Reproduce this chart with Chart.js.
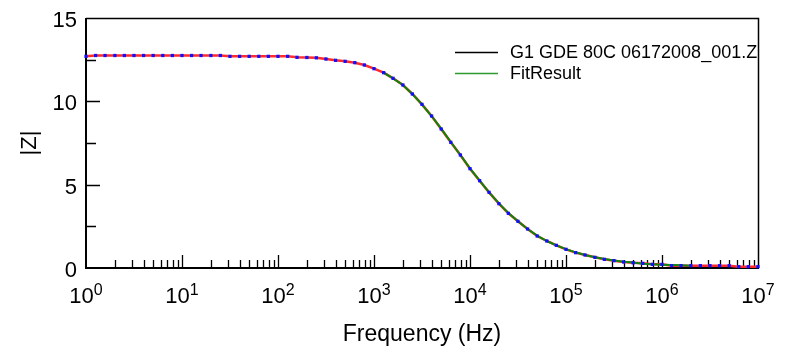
<!DOCTYPE html>
<html>
<head>
<meta charset="utf-8">
<script src="https://cdn.jsdelivr.net/npm/chart.js@4/dist/chart.umd.min.js"></script>
<style>
    html, body { margin: 0; padding: 0; background: #fff; }
    canvas { display: block; }
</style>
</head>
<body>
<canvas id="bode-chart" width="788" height="354"></canvas>
<script>
// frequency points (Hz), 10 per decade
var freq = [
    1, 1.26, 1.58, 2, 2.51, 3.16, 3.98, 5.01, 6.31, 7.94,
    10, 12.6, 15.8, 20, 25.1, 31.6, 39.8, 50.1, 63.1, 79.4,
    100, 126, 158, 200, 251, 316, 398, 501, 631, 794,
    1000, 1260, 1580, 2000, 2510, 3160, 3980, 5010, 6310, 7940,
    1e4, 1.26e4, 1.58e4, 2e4, 2.51e4, 3.16e4, 3.98e4, 5.01e4, 6.31e4, 7.94e4,
    1e5, 1.26e5, 1.58e5, 2e5, 2.51e5, 3.16e5, 3.98e5, 5.01e5, 6.31e5, 7.94e5,
    1e6, 1.26e6, 1.58e6, 2e6, 2.51e6, 3.16e6, 3.98e6, 5.01e6, 6.31e6, 7.94e6,
    1e7
];

// measured |Z|
var zMeasured = [
    12.70, 12.75, 12.75, 12.75, 12.75, 12.75, 12.75, 12.75, 12.75, 12.75,
    12.75, 12.75, 12.75, 12.75, 12.75, 12.70, 12.70, 12.70, 12.70, 12.70,
    12.70, 12.70, 12.64, 12.63, 12.61, 12.54, 12.46, 12.40, 12.32, 12.18,
    11.96, 11.72, 11.38, 10.98, 10.44, 9.82, 9.12, 8.34, 7.54, 6.78,
    5.96, 5.24, 4.54, 3.86, 3.28, 2.80, 2.34, 1.92, 1.62, 1.36,
    1.12, 0.92, 0.78, 0.64, 0.52, 0.44, 0.36, 0.31, 0.28, 0.22,
    0.22, 0.14, 0.14, 0.14, 0.14, 0.14, 0.14, 0.14, 0.08, 0.08,
    0.08
];

// fit result, only over the middle of the range
var fitFreq = freq.slice(31, 64);
var zFit = [
    11.72, 11.38, 10.98, 10.44, 9.82, 9.12, 8.36, 7.56, 6.78, 5.98,
    5.24, 4.54, 3.88, 3.30, 2.80, 2.34, 1.94, 1.62, 1.36, 1.13,
    0.94, 0.78, 0.65, 0.54, 0.45, 0.38, 0.33, 0.26, 0.23, 0.20,
    0.18, 0.16, 0.14
];

var decades = [0, 1, 2, 3, 4, 5, 6, 7];
var yTicks = [0, 5, 10, 15];
var seriesNames = ["G1 GDE 80C 06172008_001.Z", "FitResult"];

var FONT = "'Liberation Sans', Arial, sans-serif";

function pts(xs, ys) {
    return xs.map(function (x, i) { return { x: x, y: ys[i] }; });
}

var frame = {
    id: "frame",
    beforeDatasetsDraw: function (chart) {
        var ctx = chart.ctx, a = chart.chartArea;
        var xs = chart.scales.x, ys = chart.scales.y;
        ctx.save();
        ctx.strokeStyle = "#000";

        // ticks point inward
        ctx.lineWidth = 1.3;
        ctx.beginPath();
        decades.forEach(function (n) {
            for (var m = 1; m <= 9; m++) {
                var f = m * Math.pow(10, n);
                if (f <= 1 || f >= 1e7) continue;
                var px = Math.round(xs.getPixelForValue(f)) + 0.5;
                var len = m === 1 ? 13 : 8;
                ctx.moveTo(px, a.bottom);
                ctx.lineTo(px, a.bottom - len);
            }
        });
        [2.5, 5, 7.5, 10, 12.5].forEach(function (v) {
            var py = Math.round(ys.getPixelForValue(v)) + 0.5;
            var len = v % 5 === 0 ? 14 : 10;
            ctx.moveTo(a.left, py);
            ctx.lineTo(a.left + len, py);
        });
        ctx.stroke();

        ctx.lineWidth = 1.5;
        ctx.beginPath();
        ctx.moveTo(a.left, a.top + 0.5);
        ctx.lineTo(a.right + 0.5, a.top + 0.5);
        ctx.lineTo(a.right + 0.5, a.bottom);
        ctx.stroke();

        ctx.lineWidth = 2;
        ctx.beginPath();
        ctx.moveTo(a.left, a.top);
        ctx.lineTo(a.left, a.bottom);
        ctx.lineTo(a.right + 1, a.bottom);
        ctx.stroke();
        ctx.restore();
    },
    afterDraw: function (chart) {
        var ctx = chart.ctx, a = chart.chartArea;
        var xs = chart.scales.x, ys = chart.scales.y;
        ctx.save();
        ctx.fillStyle = "#000";

        // y tick labels
        ctx.font = "22px " + FONT;
        ctx.textAlign = "right";
        ctx.textBaseline = "middle";
        yTicks.forEach(function (v) {
            ctx.fillText(String(v), a.left - 9, ys.getPixelForValue(v) + 3);
        });

        // 10^n labels
        ctx.textBaseline = "alphabetic";
        ctx.textAlign = "left";
        decades.forEach(function (n) {
            var px = xs.getPixelForValue(Math.pow(10, n));
            ctx.font = "22px " + FONT;
            var wb = ctx.measureText("10").width;
            ctx.font = "16px " + FONT;
            var we = ctx.measureText(String(n)).width;
            var x0 = px - (wb + we) / 2;
            ctx.font = "22px " + FONT;
            ctx.fillText("10", x0, a.bottom + 35);
            ctx.font = "16px " + FONT;
            ctx.fillText(String(n), x0 + wb, a.bottom + 27);
        });

        // legend inside the plot
        var colors = ["#000000", "#2f9a2f"];
        ctx.font = "18px " + FONT;
        ctx.textBaseline = "middle";
        seriesNames.forEach(function (name, i) {
            var y = 52.5 + i * 21;
            ctx.strokeStyle = colors[i];
            ctx.lineWidth = 1.5;
            ctx.beginPath();
            ctx.moveTo(455, y);
            ctx.lineTo(498, y);
            ctx.stroke();
            ctx.fillText(name, 510, y + 1);
        });
        ctx.restore();
    }
};

new Chart(document.getElementById("bode-chart"), {
    type: "line",
    data: {
        datasets: [
            {
                label: seriesNames[0] + " points",
                data: pts(freq, zMeasured),
                showLine: false,
                pointStyle: "rect",
                pointRadius: 2.3,
                pointBorderWidth: 0,
                pointBackgroundColor: "#1010ff",
                clip: false,
                order: 1
            },
            {
                label: seriesNames[1],
                data: pts(fitFreq, zFit),
                borderColor: "#0a870a",
                borderWidth: 2,
                pointRadius: 0,
                tension: 0,
                order: 2
            },
            {
                label: seriesNames[0],
                data: pts(freq, zMeasured),
                borderColor: "#ff2a2a",
                borderWidth: 2.5,
                pointRadius: 0,
                tension: 0,
                order: 3
            }
        ]
    },
    options: {
        responsive: false,
        animation: false,
        devicePixelRatio: 1,
        layout: { padding: { left: 0, right: 30, top: 18, bottom: 0 } },
        scales: {
            x: {
                type: "logarithmic",
                min: 1,
                max: 1e7,
                grid: { display: false, drawTicks: false },
                border: { display: false },
                ticks: { display: false },
                title: {
                    display: true,
                    text: "Frequency (Hz)",
                    color: "#000",
                    font: { family: FONT, size: 23 },
                    padding: { top: 0, bottom: 6 }
                },
                afterFit: function (s) { s.height = 86; }
            },
            y: {
                min: 0,
                max: 15,
                grid: { display: false, drawTicks: false },
                border: { display: false },
                ticks: { display: false },
                title: {
                    display: true,
                    text: "|Z|",
                    color: "#000",
                    font: { family: FONT, size: 22 },
                    padding: { top: 17, bottom: 0 }
                },
                afterFit: function (s) { s.width = 86; }
            }
        },
        plugins: {
            legend: { display: false },
            tooltip: { enabled: false }
        }
    },
    plugins: [frame]
});
</script>
</body>
</html>
